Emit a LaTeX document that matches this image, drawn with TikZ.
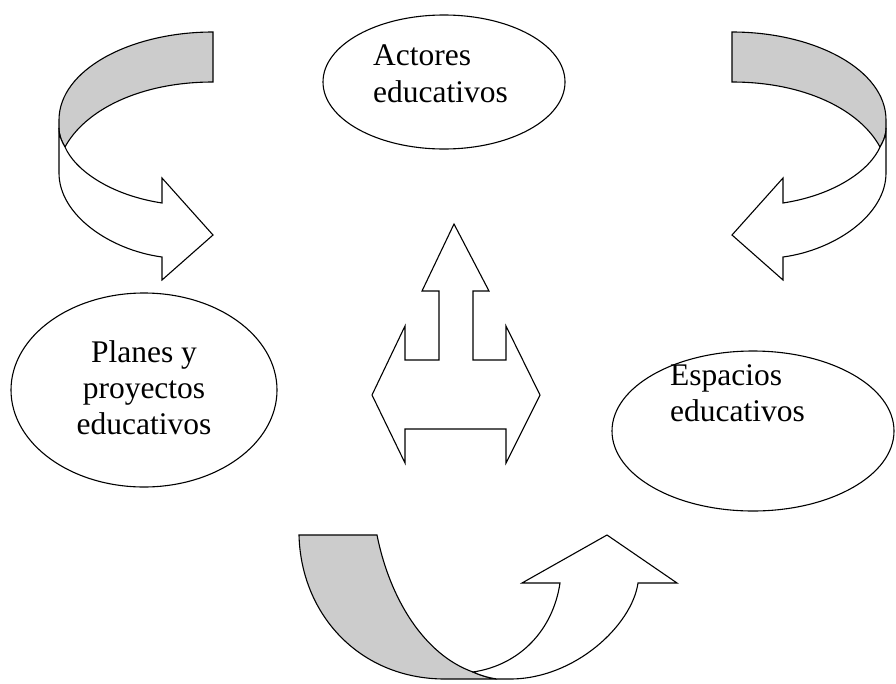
\documentclass[tikz,border=0pt]{standalone}
\usepackage{fontspec}
\setmainfont{Liberation Serif}
\usetikzlibrary{shapes.geometric}
\begin{document}
\begin{tikzpicture}[x=1pt,y=-1pt,
  outl/.style={draw=black,line width=1.1pt,line join=miter},
  back/.style={outl,fill=black!20},
  front/.style={outl,fill=white},
  oval/.style={draw=black,line width=1.1pt,ellipse,inner sep=0pt,fill=white},
  lbl/.style={font=\fontsize{31.5}{36}\selectfont,inner sep=0pt}]
\useasboundingbox (0,0) rectangle (896,683);
% ellipses
\node[oval,minimum width=242pt,minimum height=134pt] (actores) at (444,82) {};
\node[oval,minimum width=266pt,minimum height=194pt] (planes) at (144,390) {};
\node[oval,minimum width=282pt,minimum height=160pt] (espacios) at (753,431) {};
% labels
\node[lbl,anchor=base west] (a1) at (373,65) {Actores};
\node[lbl,anchor=base west] (a2) at (373,102) {educativos};
\node[lbl,anchor=base] (p1) at (144,362) {Planes y};
\node[lbl,anchor=base] (p2) at (144,398) {proyectos};
\node[lbl,anchor=base] (p3) at (144,434) {educativos};
\node[lbl,anchor=base west] (e1) at (670,385) {Espacios};
\node[lbl,anchor=base west] (e2) at (670,421) {educativos};
% left curved arrow
\path[back] (213,32) .. controls (130,32) and (59,70) .. (59,120) -- (59,128)
  .. controls (59,136) and (62,142) .. (65,147)
  .. controls (85,110) and (140,82) .. (213,82) -- cycle;
\path[front] (65,147) .. controls (75,170) and (110,195) .. (162,203) -- (162,178)
  -- (213,235) -- (162,280) -- (162,257)
  .. controls (110,250) and (59,215) .. (59,173) -- (59,128)
  .. controls (59,136) and (62,142) .. (65,147) -- cycle;
% right curved arrow (mirror image)
\begin{scope}[shift={(945,0)},xscale=-1]
\path[back] (213,32) .. controls (130,32) and (59,70) .. (59,120) -- (59,128)
  .. controls (59,136) and (62,142) .. (65,147)
  .. controls (85,110) and (140,82) .. (213,82) -- cycle;
\path[front] (65,147) .. controls (75,170) and (110,195) .. (162,203) -- (162,178)
  -- (213,235) -- (162,280) -- (162,257)
  .. controls (110,250) and (59,215) .. (59,173) -- (59,128)
  .. controls (59,136) and (62,142) .. (65,147) -- cycle;
\end{scope}
% bottom curved arrow
\path[back] (299,535) -- (377,535) .. controls (390,600) and (425,655) .. (473,672)
  .. controls (482,676) and (490,678) .. (497,679) -- (445,679)
  .. controls (360,679) and (301,615) .. (299,535) -- cycle;
\path[front] (473,672) .. controls (520,665) and (553,630) .. (560,583) -- (522,583)
  -- (607,535) -- (677,583) -- (638,583)
  .. controls (632,625) and (575,679) .. (510,679) -- (497,679)
  .. controls (490,678) and (482,676) .. (473,672) -- cycle;
% central T arrow
\path[front] (454,224) -- (489,291) -- (473,291) -- (473,360) -- (506,360) -- (506,326)
  -- (540,395) -- (506,463) -- (506,429) -- (405,429) -- (405,463) -- (372,395)
  -- (405,326) -- (405,360) -- (439,360) -- (439,291) -- (422,291) -- cycle;
\end{tikzpicture}
\end{document}
